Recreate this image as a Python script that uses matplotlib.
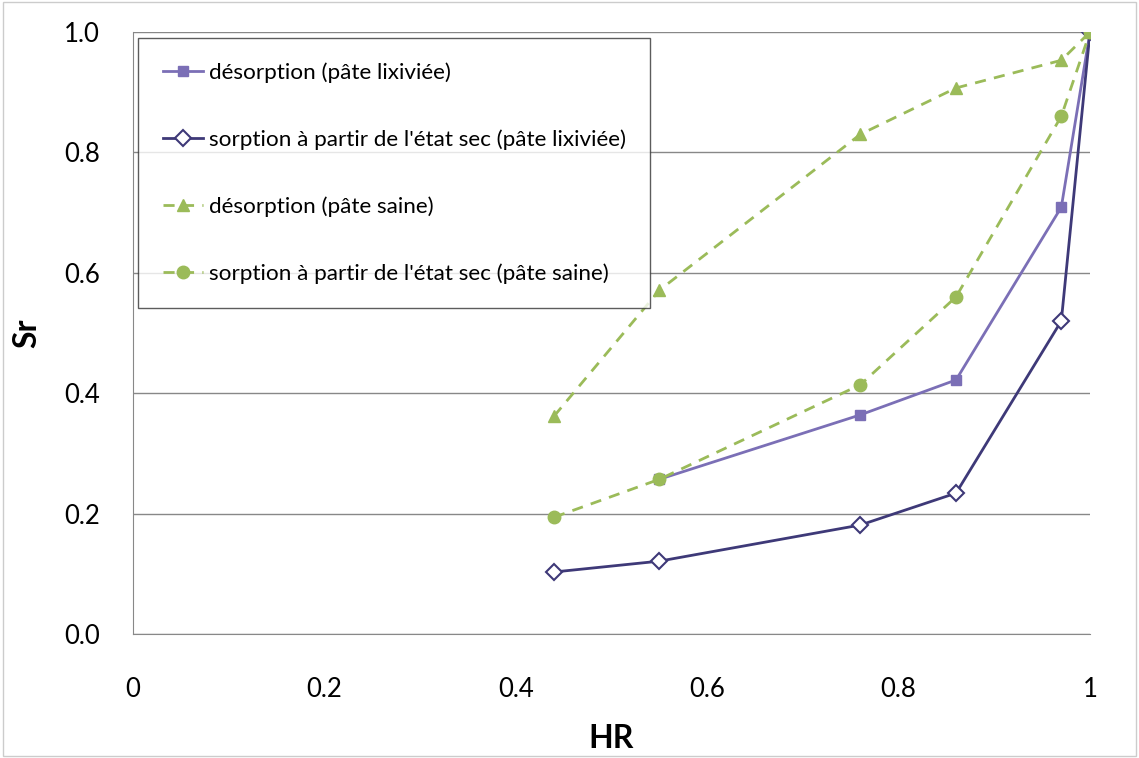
import numpy as np
import matplotlib.pyplot as plt

plt.rcParams['font.family'] = ['Lato', 'DejaVu Sans']

hr = [0.44, 0.55, 0.76, 0.86, 0.97, 1.0]
hr_des_lix = [0.55, 0.76, 0.86, 0.97, 1.0]
sr_des_lix = [0.257, 0.364, 0.422, 0.709, 1.0]
sr_sorp_lix = [0.103, 0.121, 0.181, 0.234, 0.52, 1.0]
sr_des_saine = [0.362, 0.571, 0.83, 0.907, 0.953, 1.0]
sr_sorp_saine = [0.194, 0.257, 0.414, 0.56, 0.86, 1.0]

violet = '#7b6fb6'
violet_fonce = '#3e3978'
vert = '#9bbb59'

fig = plt.figure(figsize=(11.39, 7.58), dpi=100)
ax = fig.add_axes([0.1168, 0.1636, 0.8402, 0.7942])

ax.plot(hr_des_lix, sr_des_lix, color=violet, lw=2, marker='s', ms=7,
        label='désorption (pâte lixiviée)')
ax.plot(hr, sr_sorp_lix, color=violet_fonce, lw=2, marker='D', ms=8,
        mfc='white', mec=violet_fonce, mew=1.5,
        label="sorption à partir de l'état sec (pâte lixiviée)")
ax.plot(hr, sr_des_saine, color=vert, lw=2, ls=(0, (4, 3)), marker='^', ms=9,
        label='désorption (pâte saine)')
ax.plot(hr, sr_sorp_saine, color=vert, lw=2, ls=(0, (4, 3)), marker='o', ms=9,
        label="sorption à partir de l'état sec (pâte saine)")

ax.set_xlim(0, 1)
ax.set_ylim(0, 1)
ax.set_xticks([0, 0.2, 0.4, 0.6, 0.8, 1.0])
ax.set_xticklabels(['0', '0.2', '0.4', '0.6', '0.8', '1'])
ax.set_yticks([0, 0.2, 0.4, 0.6, 0.8, 1.0])
ax.set_yticklabels(['0.0', '0.2', '0.4', '0.6', '0.8', '1.0'])
ax.tick_params(length=0, labelsize=18.5)
ax.tick_params(axis='x', pad=31)
ax.tick_params(axis='y', pad=24)
ax.grid(axis='y', color='#888888', lw=1)
ax.set_axisbelow(True)
for s in ['top', 'right']:
    ax.spines[s].set_visible(False)
for s in ['left', 'bottom']:
    ax.spines[s].set_color('#888888')

ax.set_xlabel('HR', fontsize=23, fontweight='bold', labelpad=16)
ax.set_ylabel('Sr', fontsize=23, fontweight='bold', labelpad=16)

leg = ax.legend(loc='upper left', bbox_to_anchor=(0.005, 0.99), fontsize=16.2,
                frameon=True, fancybox=False, edgecolor='#333333',
                handlelength=1.8, handletextpad=0.25, labelspacing=2.05,
                borderpad=1.1, borderaxespad=0)
leg.get_frame().set_linewidth(1)

fig.patches.append(plt.Rectangle((0.003, 0.003), 0.994, 0.994, transform=fig.transFigure,
                                 fill=False, edgecolor='#cccccc', lw=1))

fig.savefig('out.png')
